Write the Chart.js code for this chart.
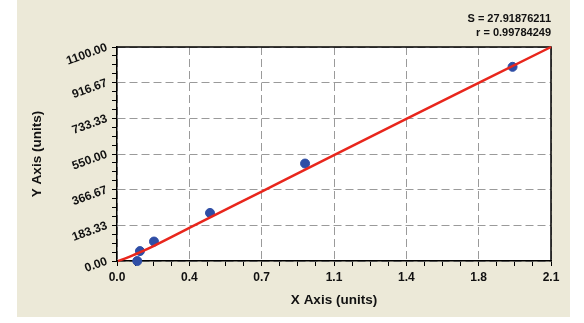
<!DOCTYPE html>
<html>
<head>
<meta charset="utf-8">
<script src="https://cdn.jsdelivr.net/npm/chart.js@4/dist/chart.umd.min.js"></script>
<style>
    html, body { margin: 0; padding: 0; background: #fff; }
    #wrap {
        position: absolute;
        left: 17px;
        top: 0;
        width: 553px;
        height: 317px;
        background: #ece9d8;
    }
</style>
</head>
<body>
<div id="wrap"><canvas id="curveChart" width="553" height="317"></canvas></div>
<script>
// measured standards
const sampleX = [0.098, 0.111, 0.179, 0.45, 0.91, 1.914];
const sampleY = [0, 51, 100, 247, 501, 998];

// fitted curve
const fitX = [0.005, 0.05, 0.11, 0.179, 0.35, 0.7, 1.05, 1.4, 1.75, 2.1];
const fitY = [0, 17, 44, 78, 170, 357, 544, 730, 915, 1100];

const xTickLabels = ['0.0', '0.4', '0.7', '1.1', '1.4', '1.8', '2.1'];
const yTickLabels = ['0.00', '183.33', '366.67', '550.00', '733.33', '916.67', '1100.00'];
const xMax = 2.1;
const yMax = 1100;
const minorPerMajor = 4;

const statsText = ['S = 27.91876211', 'r = 0.99784249'];

function toPoints(xs, ys) {
    return xs.map((x, i) => ({ x: x, y: ys[i] }));
}

// major ticks from the label arrays, split into 4 for the minor marks
function tickValues(max, count) {
    const steps = (count - 1) * minorPerMajor;
    const out = [];
    for (let i = 0; i <= steps; i++) {
        out.push({ value: max * i / steps });
    }
    return out;
}

function gridColor(ctx) {
    return ctx.index % minorPerMajor === 0 ? '#9a9a9a' : 'rgba(0,0,0,0)';
}

const framePlugin = {
    id: 'frame',
    beforeDraw(chart) {
        const { ctx, chartArea: a } = chart;
        ctx.save();
        ctx.fillStyle = '#ffffff';
        ctx.fillRect(a.left, a.top, a.right - a.left, a.bottom - a.top);
        ctx.restore();
    },
    beforeDatasetsDraw(chart) {
        const { ctx, chartArea: a } = chart;
        ctx.save();
        ctx.strokeStyle = '#000';
        ctx.lineWidth = 1.5;
        ctx.beginPath();
        ctx.moveTo(a.left, a.top);
        ctx.lineTo(a.right, a.top);
        ctx.lineTo(a.right, a.bottom);
        ctx.stroke();
        ctx.restore();
    }
};

const tickFont = { family: 'Liberation Sans, Arial, sans-serif', size: 12, weight: 'bold' };
const titleFont = { family: 'Liberation Sans, Arial, sans-serif', size: 13.5, weight: 'bold' };

new Chart(document.getElementById('curveChart').getContext('2d'), {
    data: {
        datasets: [{
            type: 'line',
            data: toPoints(fitX, fitY),
            borderColor: '#e8261c',
            borderWidth: 2.5,
            pointRadius: 0,
            cubicInterpolationMode: 'monotone',
            fill: false,
            order: 1
        }, {
            type: 'scatter',
            data: toPoints(sampleX, sampleY),
            backgroundColor: '#2f4ea6',
            borderColor: '#2f4ea6',
            pointRadius: 4.5,
            order: 2
        }]
    },
    options: {
        responsive: false,
        animation: false,
        clip: false,
        layout: {
            padding: { top: 0, right: 19, bottom: 0, left: 0 }
        },
        plugins: {
            legend: { display: false },
            tooltip: { enabled: false },
            title: {
                display: true,
                text: statsText,
                align: 'end',
                color: '#111',
                font: { family: 'Liberation Sans, Arial, sans-serif', size: 11, weight: 'bold', lineHeight: 14 / 11 },
                padding: { top: 12, bottom: 7 }
            }
        },
        scales: {
            x: {
                type: 'linear',
                min: 0,
                max: xMax,
                afterBuildTicks: (scale) => { scale.ticks = tickValues(xMax, xTickLabels.length); },
                afterFit: (scale) => { scale.height = 56; },
                ticks: {
                    autoSkip: false,
                    maxRotation: 0,
                    padding: 4,
                    color: '#111',
                    font: tickFont,
                    callback: (value, index) => index % minorPerMajor === 0 ? xTickLabels[index / minorPerMajor] : ''
                },
                grid: {
                    color: gridColor,
                    tickColor: '#000',
                    tickLength: 5,
                    lineWidth: 1
                },
                border: { color: '#000', width: 1.5, dash: [8, 4] },
                title: {
                    display: true,
                    text: 'X Axis (units)',
                    color: '#111',
                    font: titleFont,
                    padding: { top: 4, bottom: 9 }
                }
            },
            y: {
                type: 'linear',
                min: 0,
                max: yMax,
                afterBuildTicks: (scale) => { scale.ticks = tickValues(yMax, yTickLabels.length); },
                afterFit: (scale) => { scale.width = 100; },
                ticks: {
                    autoSkip: false,
                    minRotation: 20,
                    maxRotation: 20,
                    padding: 5,
                    color: '#111',
                    font: tickFont,
                    callback: (value, index) => index % minorPerMajor === 0 ? yTickLabels[index / minorPerMajor] : ''
                },
                grid: {
                    color: gridColor,
                    tickColor: '#000',
                    tickLength: 5,
                    lineWidth: 1
                },
                border: { color: '#000', width: 1.5, dash: [8, 4] },
                title: {
                    display: true,
                    text: 'Y Axis (units)',
                    color: '#111',
                    font: titleFont,
                    padding: { top: 12, bottom: 0 }
                }
            }
        }
    },
    plugins: [framePlugin]
});
</script>
</body>
</html>
